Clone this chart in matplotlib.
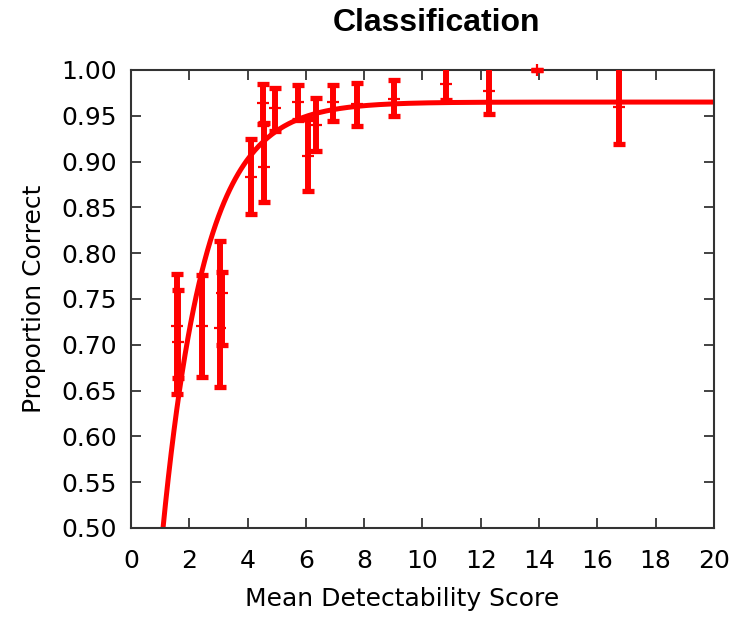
import numpy as np
import matplotlib
matplotlib.use("Agg")
import matplotlib.pyplot as plt


# ---------------------------------------------------
# DATA
# ---------------------------------------------------
score = [1.58, 1.62, 2.42, 3.07, 3.11, 4.12, 4.52, 4.56, 4.94,
         5.72, 6.06, 6.35, 6.94, 7.74, 9.03, 10.8, 12.28, 13.94, 16.75]
prop = [0.721, 0.703, 0.720, 0.718, 0.757, 0.883, 0.964, 0.894, 0.958,
        0.965, 0.906, 0.940, 0.965, 0.963, 0.968, 0.985, 0.977, 1.000, 0.960]
low = [0.646, 0.664, 0.665, 0.654, 0.700, 0.843, 0.941, 0.856, 0.933,
       0.945, 0.868, 0.912, 0.944, 0.939, 0.950, 0.967, 0.952, 1.000, 0.919]
high = [0.777, 0.760, 0.776, 0.813, 0.779, 0.925, 0.985, 0.942, 0.980,
        0.984, 0.947, 0.969, 0.984, 0.986, 0.989, 1.005, 1.005, 1.000, 1.005]

# fitted curve: y = c - a * exp(-k x)
fit_c, fit_a, fit_k = 0.965, 0.994, 0.691

x_ticks = [0, 2, 4, 6, 8, 10, 12, 14, 16, 18, 20]
y_ticks = [0.50, 0.55, 0.60, 0.65, 0.70, 0.75, 0.80, 0.85, 0.90, 0.95, 1.00]

RED = "#ff0000"

fig = plt.figure(figsize=(7.51, 6.2), dpi=100)
ax = fig.add_axes([0.1744, 0.1484, 0.7763, 0.7387])

score = np.array(score)
prop = np.array(prop)
low = np.array(low)
high = np.array(high)

# points sitting on the top edge are drawn unclipped, like gnuplot does
edge = (low >= 1.0)
for mask, clip in [(~edge, True), (edge, False)]:
    ax.errorbar(score[mask], prop[mask],
                yerr=[prop[mask] - low[mask], high[mask] - prop[mask]],
                fmt="none", ecolor=RED, elinewidth=4.3,
                capsize=4.5, capthick=3.8, zorder=3, clip_on=clip)
    ax.plot(score[mask], prop[mask], linestyle="none", marker="+",
            markersize=9, markeredgewidth=1.6, color=RED, zorder=4,
            clip_on=clip)

xs = np.linspace(0.9, 20, 400)
ax.plot(xs, fit_c - fit_a * np.exp(-fit_k * xs), color=RED, lw=3.6,
        zorder=2)

ax.set_xlim(0, 20)
ax.set_ylim(0.5, 1.0)
ax.set_xticks(x_ticks)
ax.set_yticks(y_ticks)
ax.set_yticklabels([f"{v:.2f}" for v in y_ticks])

ax.tick_params(direction="in", length=7, width=1.2, top=True, right=True,
               labelsize=18, colors="#222222", labelcolor="black")
ax.tick_params(axis="x", pad=15)
ax.tick_params(axis="y", pad=10)
for s in ax.spines.values():
    s.set_linewidth(1.5)
    s.set_color("#333333")

ax.set_xlabel("Mean Detectability Score", fontsize=18)
ax.set_ylabel("Proportion Correct", fontsize=18)
ax.xaxis.set_label_coords(0.465, -0.128)
ax.yaxis.set_label_coords(-0.146, 0.5)

fig.text(0.581, 0.963, "Classification", ha="center", va="center",
         fontsize=23, fontweight="bold", family="Liberation Sans")

fig.savefig("out.png", dpi=100)
